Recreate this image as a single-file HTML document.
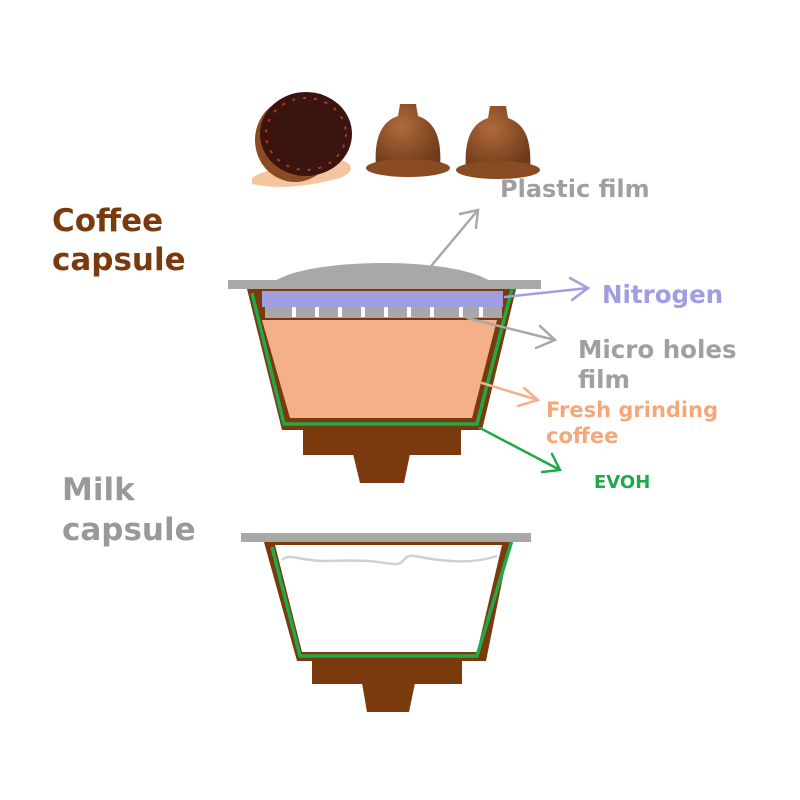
<!DOCTYPE html>
<html><head><style>
body{margin:0;background:#fff}
svg{display:block}
text{font-family:"DejaVu Sans",Verdana,sans-serif;font-weight:bold}
</style></head><body>
<svg width="800" height="800" viewBox="0 0 800 800" xmlns="http://www.w3.org/2000/svg">
<defs>
<radialGradient id="cg" cx="0.4" cy="0.35" r="0.7"><stop offset="0" stop-color="#b06a3a"/><stop offset="1" stop-color="#6e3a1a"/></radialGradient>
</defs>
<!-- photos -->
<path d="M252,178 C270,165 300,168 330,160 C350,158 360,170 340,178 C310,186 280,190 252,184Z" fill="#f0b888" opacity="0.8"/>
<ellipse cx="295" cy="140" rx="40" ry="42" fill="#8a4a22"/>
<ellipse cx="306" cy="134" rx="46" ry="42" fill="#3a1510"/>
<ellipse cx="306" cy="134" rx="40" ry="36" fill="none" stroke="#c03020" stroke-width="2" stroke-dasharray="3 8"/>
<path d="M376,168 C374,140 380,122 398,116 L400,104 L416,104 L418,116 C436,122 442,140 440,168Z" fill="url(#cg)"/>
<ellipse cx="408" cy="168" rx="42" ry="9" fill="#8a4a22"/>
<path d="M466,170 C464,142 470,124 488,118 L490,106 L506,106 L508,118 C526,124 532,142 530,170Z" fill="url(#cg)"/>
<ellipse cx="498" cy="170" rx="42" ry="9" fill="#8a4a22"/>
<!-- coffee capsule -->
<path d="M275,281 C310,258 450,256 490,281Z" fill="#a8a8a8"/>
<rect x="228" y="280" width="313" height="9" fill="#a8a8a8"/>
<polygon points="247,289 516,289 482,430 282,430" fill="#7a3a0e"/>
<rect x="303" y="428" width="158" height="27" fill="#7a3a0e"/>
<polygon points="353,454 410,454 404,483 360,483" fill="#7a3a0e"/>
<rect x="262" y="291" width="241" height="16" fill="#a09ee0"/>
<rect x="265" y="307" width="237" height="11" fill="#a8a8a8"/>
<g fill="#fff"><rect x="292" y="307" width="4" height="10"/><rect x="315" y="307" width="4" height="10"/><rect x="338" y="307" width="4" height="10"/><rect x="361" y="307" width="4" height="10"/><rect x="384" y="307" width="4" height="10"/><rect x="407" y="307" width="4" height="10"/><rect x="430" y="307" width="4" height="10"/><rect x="459" y="307" width="4" height="10"/><rect x="479" y="307" width="4" height="10"/></g>
<polygon points="262,320 497,320 472,418 290,418" fill="#f4b088"/>
<polyline points="252,293 284,424 477,424 512,289" fill="none" stroke="#1faa4a" stroke-width="3.5"/>
<!-- milk capsule -->
<polygon points="264,542 510,542 486,661 297,661" fill="#7a3a0e"/>
<rect x="312" y="659" width="150" height="25" fill="#7a3a0e"/>
<polygon points="362,683 415,683 409,712 367,712" fill="#7a3a0e"/>
<polygon points="275,545 502,545 477,652 302,652" fill="#fff"/>
<path d="M282,560 C290,552 300,562 330,561 C370,559 380,563 395,564 C405,565 402,554 415,556 C440,561 470,565 497,556" fill="none" stroke="#d0d0d0" stroke-width="2.5"/>
<polyline points="272,547 300,656 477,656 512,540" fill="none" stroke="#1faa4a" stroke-width="3.5"/>
<rect x="241" y="533" width="290" height="9" fill="#a8a8a8"/>
<!-- arrows -->
<g fill="none" stroke-width="2.5" stroke-linecap="round">
<path d="M432,265 L478,210 M460,214 L478,210 L476,228" stroke="#a8a8a8"/>
<path d="M505,297 L588,288 M570,278 L588,288 L572,300" stroke="#a09ee0"/>
<path d="M467,318 L555,340 M540,326 L555,340 L536,348" stroke="#a8a8a8"/>
<path d="M482,383 L538,400 M524,388 L538,400 L518,406" stroke="#f4b088"/>
<path d="M480,428 L560,470 M552,454 L560,470 L542,472" stroke="#1faa4a"/>
</g>
<!-- labels -->
<text x="52" y="231" font-size="31" fill="#7a3a0e">Coffee</text>
<text x="52" y="270" font-size="31" fill="#7a3a0e">capsule</text>
<text x="62" y="500" font-size="31" fill="#999">Milk</text>
<text x="62" y="540" font-size="31" fill="#999">capsule</text>
<text x="500" y="197" font-size="24" fill="#a0a0a0">Plastic film</text>
<text x="602" y="303" font-size="24.5" fill="#a09ee0">Nitrogen</text>
<text x="578" y="358" font-size="24.5" fill="#a0a0a0">Micro holes</text>
<text x="578" y="388" font-size="24.5" fill="#a0a0a0">film</text>
<text x="546" y="417" font-size="21" fill="#f4a87a">Fresh grinding</text>
<text x="546" y="443" font-size="21" fill="#f4a87a">coffee</text>
<text x="594" y="488" font-size="18" fill="#1faa4a">EVOH</text>
</svg>
</body></html>
